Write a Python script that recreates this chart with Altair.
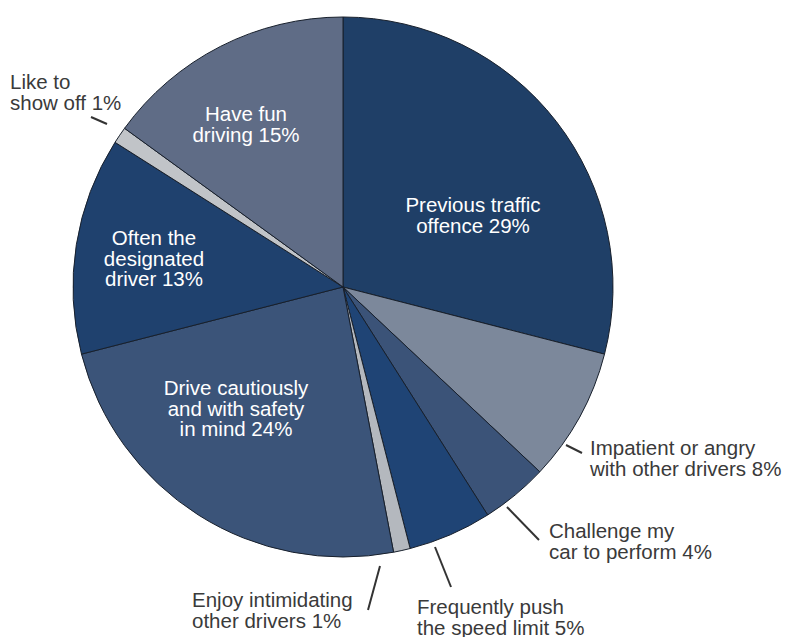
import altair as alt
import pandas as pd

# ---- data ----
categories = [
    "Previous traffic offence",
    "Impatient or angry with other drivers",
    "Challenge my car to perform",
    "Frequently push the speed limit",
    "Enjoy intimidating other drivers",
    "Drive cautiously and with safety in mind",
    "Often the designated driver",
    "Like to show off",
    "Have fun driving",
]
values = [29, 8, 4, 5, 1, 24, 13, 1, 15]
slice_colors = ["#1f3f67", "#7c889b", "#3b5378", "#1f4475", "#b4b8be",
                "#3b5479", "#1f416e", "#c1c4c8", "#5f6c86"]

label_lines = [
    ["Previous traffic", "offence 29%"],
    ["Impatient or angry", "with other drivers 8%"],
    ["Challenge my", "car to perform 4%"],
    ["Frequently push", "the speed limit 5%"],
    ["Enjoy intimidating", "other drivers 1%"],
    ["Drive cautiously", "and with safety", "in mind 24%"],
    ["Often the", "designated", "driver 13%"],
    ["Like to", "show off 1%"],
    ["Have fun", "driving 15%"],
]
inside = [True, False, False, False, False, True, True, False, True]

# ---- layout (pixels) ----
CX, CY, R = 343, 287, 270
label_pos = [(473, 212), (590, 455), (549, 538), (417, 614), (192, 607),
             (236, 395), (154, 245), (10, 89), (246, 121)]
leaders = {1: (566, 445, 582, 453), 2: (507, 507, 539, 540), 3: (435, 547, 451, 587),
           4: (380, 566, 368, 610), 7: (91, 117, 107, 124)}

pie_df = pd.DataFrame({"category": categories, "value": values, "idx": list(range(len(values)))})

lab_df = pd.DataFrame({
    "text": label_lines,
    "x": [p[0] for p in label_pos],
    "y": [p[1] for p in label_pos],
    "inside": inside,
})
lead_df = pd.DataFrame([{"x": a, "y": b, "x2": c, "y2": d} for a, b, c, d in leaders.values()])

pie = alt.Chart(pie_df).mark_arc(outerRadius=R, stroke="#18202c", strokeWidth=1).encode(
    theta=alt.Theta("value:Q", stack=True),
    color=alt.Color("category:N", scale=alt.Scale(domain=categories, range=slice_colors), legend=None),
    order=alt.Order("idx:Q", sort="ascending"),
    x=alt.value(CX),
    y=alt.value(CY),
)

font = "Liberation Sans"
inner = alt.Chart(lab_df).transform_filter("datum.inside").mark_text(
    align="center", baseline="alphabetic", font=font, fontSize=20.5, lineHeight=20.5, color="white"
).encode(
    x=alt.X("x:Q", scale=None), y=alt.Y("y:Q", scale=None), text="text"
)
outer = alt.Chart(lab_df).transform_filter("!datum.inside").mark_text(
    align="left", baseline="alphabetic", font=font, fontSize=20.5, lineHeight=20.5, color="#3a3a3a"
).encode(
    x=alt.X("x:Q", scale=None), y=alt.Y("y:Q", scale=None), text="text"
)
lines = alt.Chart(lead_df).mark_rule(color="#333333", strokeWidth=2).encode(
    x=alt.X("x:Q", scale=None), y=alt.Y("y:Q", scale=None),
    x2="x2:Q", y2="y2:Q",
)

chart = alt.layer(pie, lines, inner, outer).properties(
    width=806, height=637, padding=0, autosize=alt.AutoSizeParams(type="none"),
    background="white",
).configure_view(stroke=None)

chart.save("out.html", embed_options={"renderer": "svg", "actions": False})
